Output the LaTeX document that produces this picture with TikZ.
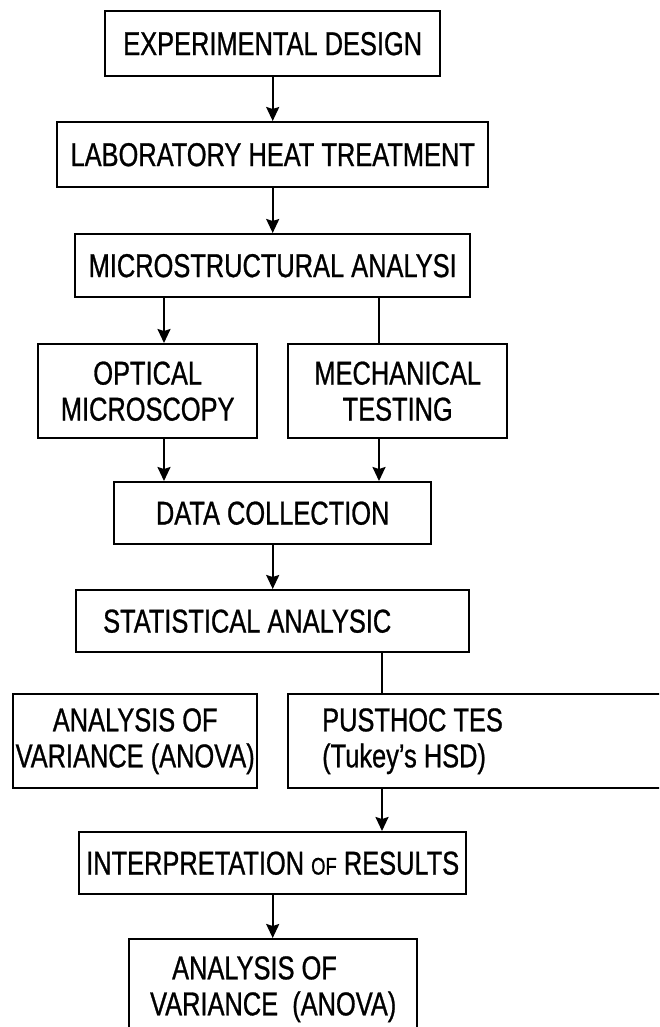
\documentclass[tikz,border=0pt]{standalone}
\usepackage{fontspec}
\setmainfont{Liberation Sans}[FakeStretch=0.77,FakeBold=0.8]
\usetikzlibrary{arrows.meta}
\tikzset{
  box/.style={draw=black, line width=2.4pt, anchor=north west, inner sep=0pt,
    font=\fontsize{33}{36}\selectfont, align=center, text=black},
  arr/.style={line width=2pt, -{Stealth[length=14pt,width=13pt,inset=2pt]}},
  ln/.style={line width=2pt}
}
\begin{document}
\begin{tikzpicture}[x=1pt,y=-1pt]
\useasboundingbox (0,0) rectangle (659,1027);
\fill[white] (0,0) rectangle (659,1027);
\clip (0,0) rectangle (659,1027);

\node[box, minimum width=335pt, minimum height=65pt] (exp) at (104,10) {EXPERIMENTAL DESIGN};
\node[box, minimum width=431pt, minimum height=65pt] (lab) at (56,121) {LABORATORY HEAT TREATMENT};
\node[box, minimum width=395pt, minimum height=63pt] (micro) at (74,233) {MICROSTRUCTURAL ANALYSI};
\node[box, minimum width=219pt, minimum height=94pt] (opt) at (37,343) {OPTICAL\\MICROSCOPY};
\node[box, minimum width=219pt, minimum height=94pt] (mech) at (287,343) {MECHANICAL\\TESTING};
\node[box, minimum width=317pt, minimum height=62pt] (data) at (113,481) {DATA COLLECTION};
\node[box, minimum width=393pt, minimum height=62pt, text width=339pt, inner xsep=27pt, align=flush left] (stat) at (75,589) {STATISTICAL ANALYSIC};
\node[box, minimum width=244pt, minimum height=94pt] (anova) at (12,693) {ANALYSIS OF\\VARIANCE (ANOVA)};
\node[box, minimum width=393pt, minimum height=94pt, text width=325pt, inner xsep=34pt, align=flush left] (post) at (287,693) {PUSTHOC TES\\(Tukey’s HSD)};
\node[box, minimum width=387pt, minimum height=62pt] (interp) at (78,831) {INTERPRETATION {\fontsize{24}{28}\selectfont OF} RESULTS};
\node[box, minimum width=288pt, minimum height=100pt, align=flush left] (final) at (128,938) {\hspace*{22pt}ANALYSIS OF\\VARIANCE~~(ANOVA)};

\coordinate (cl) at (164,0);
\coordinate (cr) at (379,0);
\coordinate (cp) at (382,0);

\draw[arr] (exp.south) -- (lab.north);
\draw[arr] (lab.south) -- (micro.north);
\draw[arr] (micro.south -| cl) -- (opt.north -| cl);
\draw[ln] (micro.south -| cr) -- (mech.north -| cr);
\draw[arr] (opt.south -| cl) -- (data.north -| cl);
\draw[arr] (mech.south -| cr) -- (data.north -| cr);
\draw[arr] (data.south) -- (stat.north -| data.south);
\draw[ln] (stat.south -| cp) -- (post.north -| cp);
\draw[arr] (post.south -| cp) -- (interp.north -| cp);
\draw[arr] (interp.south) -- (final.north -| interp.south);
\end{tikzpicture}
\end{document}
